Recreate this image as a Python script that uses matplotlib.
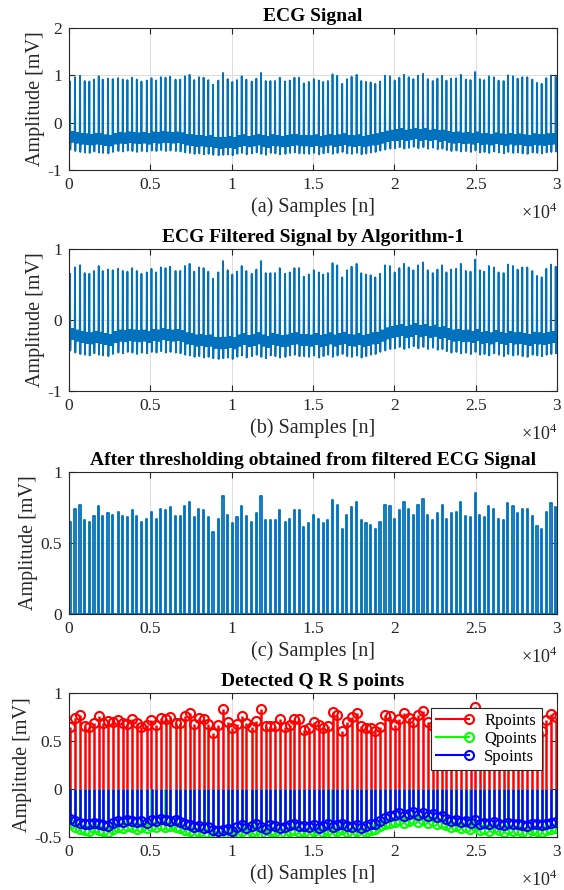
import numpy as np
import matplotlib
matplotlib.use('Agg')
from matplotlib import pyplot as plt
from matplotlib.ticker import FuncFormatter
from matplotlib.lines import Line2D
from matplotlib.legend_handler import HandlerLine2D

plt.rcParams['font.family'] = ['Liberation Serif', 'DejaVu Serif']
plt.rcParams['mathtext.fontset'] = 'custom'
plt.rcParams['mathtext.rm'] = 'Liberation Serif'
plt.rcParams['axes.unicode_minus'] = False

#############################################################################################
#DATA
#############################################################################################

n_samples = 30000

# sample index of each detected beat
r_pos = [62, 370, 678, 965, 1253, 1540, 1828, 2074, 2403, 2690, 3019, 3307, 3594, 3881,
         4169, 4456, 4785, 5072, 5360, 5648, 5935, 6222, 6551, 6839, 7126, 7414, 7701,
         7989, 8276, 8564, 8852, 9180, 9468, 9755, 10043, 10331, 10618, 10905, 11234,
         11521, 11809, 12096, 12384, 12671, 12959, 13288, 13575, 13862, 14150, 14437,
         14745, 15053, 15361, 15629, 15916, 16203, 16491, 16799, 17086, 17374, 17682,
         17970, 18257, 18545, 18832, 19120, 19428, 19736, 20023, 20311, 20598, 20886,
         21173, 21461, 21769, 22057, 22364, 22652, 22940, 23207, 23494, 23802, 24090,
         24398, 24686, 24973, 25260, 25527, 25815, 26123, 26411, 26719, 26986, 27294,
         27581, 27869, 28177, 28485, 28772, 29060, 29347, 29635, 29922]

# R peak amplitudes [mV] (filtered signal)
r_amp = [0.65, 0.74, 0.77, 0.66, 0.65, 0.69, 0.76, 0.69, 0.71, 0.70, 0.72, 0.69, 0.68,
         0.73, 0.69, 0.65, 0.67, 0.72, 0.67, 0.74, 0.73, 0.75, 0.69, 0.69, 0.76, 0.79,
         0.68, 0.74, 0.73, 0.68, 0.58, 0.67, 0.83, 0.70, 0.64, 0.68, 0.76, 0.69, 0.65,
         0.71, 0.83, 0.66, 0.66, 0.66, 0.73, 0.65, 0.67, 0.73, 0.73, 0.61, 0.64, 0.70,
         0.67, 0.64, 0.66, 0.80, 0.77, 0.60, 0.70, 0.75, 0.79, 0.66, 0.64, 0.63, 0.60,
         0.65, 0.77, 0.76, 0.67, 0.73, 0.79, 0.74, 0.70, 0.77, 0.81, 0.70, 0.66, 0.71,
         0.77, 0.67, 0.71, 0.72, 0.79, 0.69, 0.68, 0.85, 0.70, 0.68, 0.76, 0.74, 0.67,
         0.66, 0.78, 0.76, 0.71, 0.74, 0.74, 0.69, 0.62, 0.60, 0.72, 0.78, 0.75]

# Q point amplitudes [mV]
q_amp = [-0.37, -0.40,
         -0.42, -0.43, -0.44, -0.41, -0.43,
         -0.44, -0.45,
         -0.42, -0.40, -0.41, -0.39, -0.40, -0.42, -0.40, -0.41,
         -0.39, -0.40, -0.38, -0.40, -0.39, -0.40, -0.41,
         -0.43, -0.44, -0.46, -0.45, -0.47, -0.46,
         -0.48, -0.49, -0.48, -0.47, -0.49,
         -0.46, -0.44, -0.47, -0.45, -0.43, -0.46, -0.48, -0.44, -0.45, -0.47, -0.46,
         -0.44, -0.43, -0.45,
         -0.45, -0.46, -0.44, -0.47, -0.45, -0.43, -0.46, -0.44, -0.42, -0.45, -0.46,
         -0.44, -0.47, -0.45, -0.43,
         -0.42, -0.39, -0.37, -0.35,
         -0.34, -0.32, -0.35, -0.33, -0.31, -0.34, -0.32, -0.35, -0.33, -0.36, -0.35,
         -0.38, -0.40, -0.39, -0.41, -0.40, -0.42, -0.39,
         -0.43, -0.42, -0.44, -0.41, -0.43, -0.45, -0.42, -0.44, -0.43, -0.45, -0.46,
         -0.43, -0.44, -0.45, -0.43,
         -0.42, -0.41]

# S point amplitudes [mV]
s_amp = [-0.31, -0.33,
         -0.35, -0.36, -0.37, -0.35, -0.36,
         -0.38, -0.39,
         -0.35, -0.33, -0.34, -0.32, -0.33, -0.34, -0.33, -0.35,
         -0.32, -0.33, -0.31, -0.32, -0.33, -0.32, -0.34,
         -0.37, -0.38, -0.40, -0.39, -0.41, -0.40,
         -0.43, -0.44, -0.43, -0.42, -0.44,
         -0.40, -0.38, -0.41, -0.39, -0.37, -0.40, -0.42, -0.38, -0.39, -0.41, -0.40,
         -0.38, -0.37, -0.39,
         -0.39, -0.40, -0.38, -0.41, -0.39, -0.37, -0.40, -0.38, -0.36, -0.39, -0.40,
         -0.38, -0.41, -0.39, -0.37,
         -0.36, -0.33, -0.30, -0.28,
         -0.27, -0.25, -0.28, -0.26, -0.24, -0.27, -0.25, -0.28, -0.26, -0.29, -0.28,
         -0.31, -0.33, -0.32, -0.34, -0.33, -0.35, -0.32,
         -0.36, -0.35, -0.37, -0.34, -0.36, -0.38, -0.35, -0.37, -0.36, -0.38, -0.39,
         -0.36, -0.37, -0.38, -0.36,
         -0.35, -0.34]

# how the raw and filtered traces sit relative to the detected points
raw_r_offset = 0.22
raw_q_offset = -0.20
raw_base_offset = 0.01
raw_band = 0.10
filt_q_offset = -0.06
filt_base_offset = 0.11
filt_band = 0.07

#############################################################################################
#PLOTTING FUNCTIONS
#############################################################################################

ecg_blue = '#0072BD'
axis_grey = '#262626'


def ecg_trace(r_off, q_off, base_off, band):
    ''' Build a line through the beats: baseline band, R peak, trough, baseline band. '''
    xs, ys = [0], [s_amp[0] + base_off]
    for k, r in enumerate(r_pos):
        base = s_amp[k] + base_off
        nxt = r_pos[k + 1] - 40 if k + 1 < len(r_pos) else n_samples
        xs += [r - 20, r, r + 20, r + 40]
        ys += [base, r_amp[k] + r_off, q_amp[k] + q_off, base]
        for j, x in enumerate(np.linspace(r + 60, nxt, 12)):
            xs.append(x)
            ys.append(base + band if j % 2 == 0 else base - band)
    return xs, ys


def threshold_trace():
    xs, ys = [0], [0]
    for r, a in zip(r_pos, r_amp):
        xs += [r - 35, r - 35, r + 35, r + 35]
        ys += [0, a, a, 0]
    xs.append(n_samples)
    ys.append(0)
    return xs, ys


class EndMarker(HandlerLine2D):
    ''' Legend entry with the marker at the right end of the line, as MATLAB draws it. '''
    def create_artists(self, *args, **kwargs):
        arts = super().create_artists(*args, **kwargs)
        if len(arts) == 1:
            n = len(arts[0].get_xdata())
            arts[0].set_markevery([n - 1])
        else:
            arts[1].set_xdata([arts[0].get_xdata()[-1]])
        return arts


def style_axes(ax, letter, title, yticks):
    ax.set_xlim(0, n_samples)
    ax.set_ylim(yticks[0], yticks[-1])
    ax.set_yticks(yticks)
    ax.set_xticks(np.arange(0, 30001, 5000))
    ax.xaxis.set_major_formatter(FuncFormatter(lambda v, p: f'{v / 1e4:g}'))
    ax.yaxis.set_major_formatter(FuncFormatter(lambda v, p: f'{v:g}'))
    ax.tick_params(direction='in', length=4, width=0.8, labelsize=12.5, colors=axis_grey,
                   top=True, right=True, pad=5)
    for sp in ax.spines.values():
        sp.set_color(axis_grey)
        sp.set_linewidth(0.8)
    ax.grid(True, color='#DCDCDC', linewidth=0.7)
    ax.set_axisbelow(True)
    ax.set_title(title, fontsize=14, fontweight='bold', pad=5)
    ax.set_xlabel(f'({letter}) Samples [n]', fontsize=14.5, labelpad=3, color=axis_grey)
    ax.set_ylabel('Amplitude [mV]', fontsize=14.5, labelpad=2, color=axis_grey)
    ax.text(1.0, -0.3, r'$\times10^{4}$', transform=ax.transAxes, ha='right', va='center',
            fontsize=13, color=axis_grey)


def plot_ecg_figure():
    f = plt.figure(figsize=(5.64, 8.90), dpi=100)
    ax_a = f.add_axes([0.1223, 0.809, 0.8652, 0.1596])
    ax_b = f.add_axes([0.1223, 0.5607, 0.8652, 0.1596])
    ax_c = f.add_axes([0.1223, 0.3101, 0.8652, 0.1596])
    ax_d = f.add_axes([0.1223, 0.0596, 0.8652, 0.1618])

    #raw signal
    x, y = ecg_trace(raw_r_offset, raw_q_offset, raw_base_offset, raw_band)
    ax_a.plot(x, y, color=ecg_blue, linewidth=1.3)
    style_axes(ax_a, 'a', 'ECG Signal', [-1, 0, 1, 2])

    #filtered signal
    x, y = ecg_trace(0.0, filt_q_offset, filt_base_offset, filt_band)
    ax_b.plot(x, y, color=ecg_blue, linewidth=1.3)
    style_axes(ax_b, 'b', 'ECG Filtered Signal by Algorithm-1', [-1, 0, 1])

    #thresholded
    x, y = threshold_trace()
    ax_c.plot(x, y, color=ecg_blue, linewidth=1.3)
    style_axes(ax_c, 'c', 'After thresholding obtained from filtered ECG Signal', [0, 0.5, 1])

    #detected points (Q and S sit almost on top of R, so S hides the Q stems)
    q_pos = [r - 2 for r in r_pos]
    s_pos = [r + 2 for r in r_pos]
    handles = []
    for pos, amp, col, name in [(r_pos, r_amp, 'red', 'Rpoints'),
                                (q_pos, q_amp, 'lime', 'Qpoints'),
                                (s_pos, s_amp, 'blue', 'Spoints')]:
        ax_d.vlines(pos, 0, amp, color=col, linewidth=1.8)
        ax_d.plot(pos, amp, 'o', color=col, markerfacecolor='none', markersize=6.5,
                  markeredgewidth=1.5)
        handles.append(Line2D([], [], color=col, linewidth=1.5, marker='o',
                              markerfacecolor='none', markersize=6.5, markeredgewidth=1.5,
                              label=name))
    style_axes(ax_d, 'd', 'Detected Q R S points', [-0.5, 0, 0.5, 1])
    leg = ax_d.legend(handles=handles, loc='upper right', bbox_to_anchor=(0.969, 0.898),
                      fontsize=12, fancybox=False, framealpha=1, edgecolor=axis_grey,
                      handlelength=2.0, handletextpad=0.9, borderpad=0.3, labelspacing=0.12,
                      borderaxespad=0, handler_map={Line2D: EndMarker()})
    leg.get_frame().set_linewidth(0.8)

    f.savefig('out.png', dpi=100)


if __name__ == "__main__":
    plot_ecg_figure()
